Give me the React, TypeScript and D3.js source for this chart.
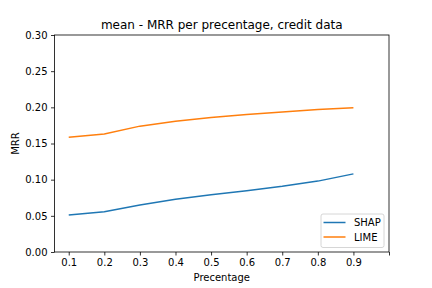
import React, { useEffect, useRef } from "react";
import * as d3 from "d3";

const percentages = [0.1, 0.2, 0.3, 0.4, 0.5, 0.6, 0.7, 0.8, 0.9];
const shapValues = [0.051, 0.0557, 0.065, 0.073, 0.079, 0.0848, 0.0908, 0.098, 0.108];
const limeValues = [0.1586, 0.163, 0.174, 0.1807, 0.186, 0.19, 0.1936, 0.197, 0.1995];
const xTicks = [0.1, 0.2, 0.3, 0.4, 0.5, 0.6, 0.7, 0.8, 0.9, 1.0];
const yTicks = [0, 0.05, 0.1, 0.15, 0.2, 0.25, 0.3];
const seriesNames = ["SHAP", "LIME"];
const seriesColors = ["#1f77b4", "#ff7f0e"];

const App = () => {
  const ref = useRef<SVGSVGElement>(null);

  useEffect(() => {
    const svg = d3.select(ref.current);
    svg.selectAll("*").remove();

    const margin = { top: 35, right: 43, bottom: 36, left: 54.5 },
      width = 432 - margin.left - margin.right,
      height = 288 - margin.top - margin.bottom;
    const font = "DejaVu Sans, sans-serif";

    const g = svg.append("g")
      .attr("transform", `translate(${margin.left},${margin.top})`);

    const x = d3.scaleLinear().domain([0.06, 1.0]).range([0, width]);
    const y = d3.scaleLinear().domain([0, 0.3]).range([height, 0]);

    // lines
    const line = d3.line<number>()
      .x((d, i) => x(percentages[i]))
      .y(d => y(d));

    [shapValues, limeValues].forEach((vals, k) => {
      g.append("path")
        .datum(vals)
        .attr("fill", "none")
        .attr("stroke", seriesColors[k])
        .attr("stroke-width", 1.5)
        .attr("d", line);
    });

    // axes
    const xAxis = g.append("g")
      .attr("transform", `translate(0,${height})`)
      .call(d3.axisBottom(x).tickValues(xTicks)
        .tickFormat(d => (+d >= 0.95 ? "" : d3.format(".1f")(+d)))
        .tickSize(3.5).tickPadding(3.5));
    const yAxis = g.append("g")
      .call(d3.axisLeft(y).tickValues(yTicks).tickFormat(d3.format(".2f"))
        .tickSize(3.5).tickPadding(3.5));

    [xAxis, yAxis].forEach(a => {
      a.select(".domain").remove();
      a.selectAll("text").attr("font-family", font).attr("font-size", 10).attr("fill", "#000");
      a.selectAll("line").attr("stroke", "#000").attr("stroke-width", 0.8);
    });

    // frame
    g.append("rect")
      .attr("x", 0).attr("y", 0)
      .attr("width", width).attr("height", height)
      .attr("fill", "none").attr("stroke", "#000").attr("stroke-width", 0.8);

    // title and labels
    svg.append("text")
      .attr("x", margin.left + width / 2).attr("y", margin.top - 6)
      .attr("text-anchor", "middle").attr("font-family", font).attr("font-size", 12)
      .text("mean - MRR per precentage, credit data");
    svg.append("text")
      .attr("x", margin.left + width / 2).attr("y", 281)
      .attr("text-anchor", "middle").attr("font-family", font).attr("font-size", 10)
      .text("Precentage");
    svg.append("text")
      .attr("transform", `translate(19,${margin.top + height / 2}) rotate(-90)`)
      .attr("text-anchor", "middle").attr("font-family", font).attr("font-size", 10)
      .text("MRR");

    // legend
    const legend = g.append("g")
      .attr("transform", `translate(${width - 68},${height - 38})`);
    legend.append("rect")
      .attr("width", 63).attr("height", 33.5).attr("rx", 2)
      .attr("fill", "#fff").attr("fill-opacity", 0.8)
      .attr("stroke", "#ccc").attr("stroke-width", 0.8);
    seriesNames.forEach((name, k) => {
      const yy = 8.5 + k * 14.5;
      legend.append("line")
        .attr("x1", 2.5).attr("x2", 24.5).attr("y1", yy).attr("y2", yy)
        .attr("stroke", seriesColors[k]).attr("stroke-width", 1.5);
      legend.append("text")
        .attr("x", 33).attr("y", yy + 3.5)
        .attr("font-family", font).attr("font-size", 10)
        .text(name);
    });
  }, []);

  return (
    <svg ref={ref} width={432} height={288}
      style={{ position: "absolute", left: 0, top: 0, background: "#fff" }} />
  );
};

export default App;
